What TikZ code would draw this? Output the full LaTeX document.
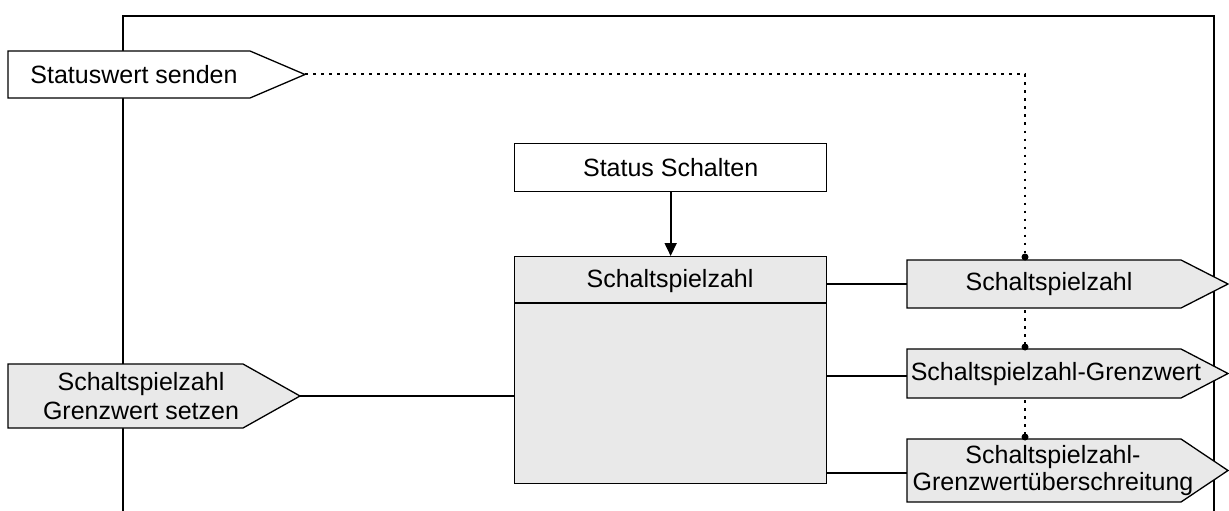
\documentclass[tikz,border=0pt]{standalone}
\usepackage{fontspec}
\setmainfont{Liberation Sans}
\usetikzlibrary{arrows.meta,calc}
\definecolor{boxgray}{RGB}{233,233,233}
\newcommand\pentshape[7]{%
  \draw[fill=#7] (#2,#3) -- (#4,#3) -- (#5,{(#3+#6)/2}) -- (#4,#6) -- (#2,#6) -- cycle;
  \coordinate (#1-tip) at (#5,{(#3+#6)/2});
  \coordinate (#1-in) at (#2,{(#3+#6)/2});
}
\begin{document}
\begin{tikzpicture}[x=1pt,y=-1pt,line width=1.3pt,
  font=\fontsize{25}{29}\selectfont,
  lbl/.style={align=center,inner sep=0pt},
  dotline/.style={line width=2pt,dash pattern=on 2.5pt off 5.5pt},
  blockbox/.style={draw,minimum width=312pt,anchor=north west,inner sep=0pt}]
\useasboundingbox (0,0) rectangle (1229,511);
% frame
\draw (123,511) -- (123,16) -- (1214,16) -- (1214,511);
% inputs
\pentshape{sw}{8}{51}{250}{305}{98}{white}
\node[lbl] (swt) at (134,75) {Statuswert senden};
\pentshape{gs}{8}{364}{243}{300}{428}{boxgray}
\node[lbl] (gst) at (141,396) {Schaltspielzahl\\Grenzwert setzen};
% blocks
\node[blockbox,minimum height=48pt,fill=white] (ss) at (514,143) {};
\node[lbl] at (ss.center) {Status Schalten};
\node[blockbox,minimum height=227pt,fill=boxgray] (main) at (514,256) {};
\draw (514,303) -- (826,303);
\node[lbl] (mt) at (670,281) {Schaltspielzahl};
\draw[line width=1.8pt,-{Triangle[length=13pt,width=12pt]}] (ss.south) -- (main.north);
% outputs
\pentshape{o1}{907}{260}{1181}{1228}{308}{boxgray}
\node[lbl] (o1t) at (1049,284) {Schaltspielzahl};
\pentshape{o2}{907}{349}{1181}{1228}{398}{boxgray}
\node[lbl] (o2t) at (1056,374) {Schaltspielzahl-Grenzwert};
\pentshape{o3}{907}{439}{1181}{1228}{502}{boxgray}
\node[lbl,font=\fontsize{25}{27}\selectfont] (o3t) at (1053,471) {Schaltspielzahl-\\Grenzwertüberschreitung};
% connectors
\draw (gs-tip) -- (gs-tip -| main.west);
\draw (main.east |- o1-in) -- (o1-in);
\draw (main.east |- 0,376) -- (907,376);
\draw (main.east |- 0,473) -- (907,473);
% dotted status
\coordinate (d1) at (1025,257);
\coordinate (d2) at (1025,347);
\coordinate (d3) at (1025,437);
\draw[dotline] (sw-tip) -| (d1);
\draw[dotline] (1025,310) -- (d2);
\draw[dotline] (1025,400) -- (d3);
\foreach \d in {d1,d2,d3} \fill (\d) circle (3.5pt);
\end{tikzpicture}
\end{document}
